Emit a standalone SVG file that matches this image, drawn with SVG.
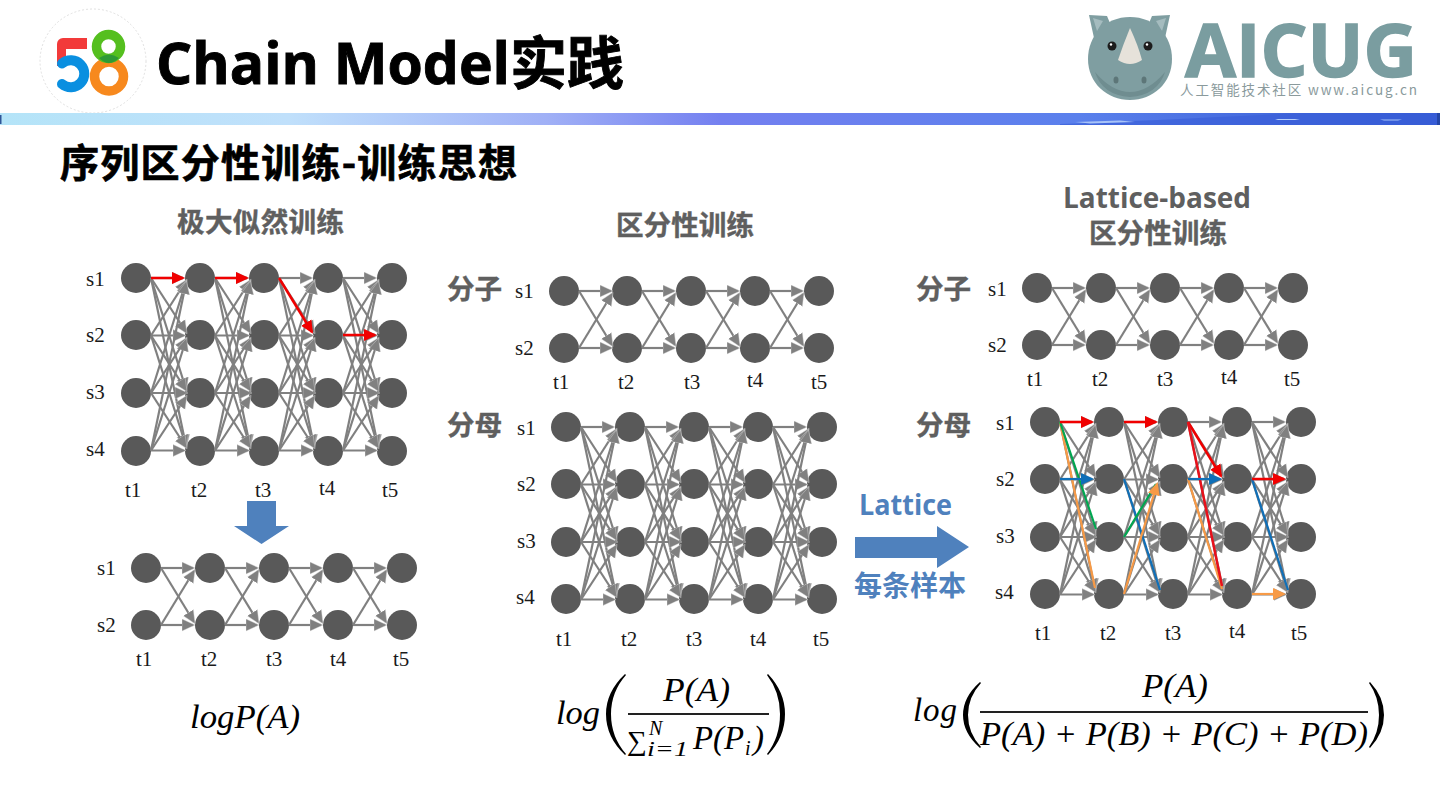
<svg xmlns="http://www.w3.org/2000/svg" xmlns:xlink="http://www.w3.org/1999/xlink" width="1440" height="810" viewBox="0 0 1440 810">
<style>
.n{fill:#595959}
.e{stroke:#808080;stroke-width:2.2;fill:none;marker-end:url(#ag)}
.r{stroke:#f00000;stroke-width:2.5;fill:none;marker-end:url(#ar)}
.b{stroke:#0f6fb8;stroke-width:2.2;fill:none;marker-end:url(#ab)}
.o{stroke:#f79a46;stroke-width:2.2;fill:none;marker-end:url(#ao)}
.rn{stroke:#e8101a;stroke-width:2.5;fill:none}
.bn{stroke:#0f6fb8;stroke-width:2.2;fill:none}
.gn{stroke:#00a650;stroke-width:2.2;fill:none}
.ob{stroke:#f79a46;stroke-width:2.2;fill:none}
.l{font-family:"Liberation Serif",serif;font-size:21px;fill:#1a1a1a}
.h{font-family:"Open Sans","Noto Sans CJK SC",sans-serif;font-weight:700;fill:#5f5f5f;font-size:28px}
.hc{font-family:"Noto Sans CJK SC",sans-serif;font-weight:700;fill:#5f5f5f;font-size:27.6px;stroke:#5f5f5f;stroke-width:.4}
.bl{font-family:"Open Sans","Noto Sans CJK SC",sans-serif;font-weight:700;fill:#4f81bd}
.m{font-family:"Liberation Serif",serif;font-style:italic;fill:#000;font-size:33px}
.mn{font-family:"Liberation Serif",serif;fill:#000}
.s{font-family:"Liberation Serif",serif;font-style:italic;fill:#000;font-size:20px}
.pr{fill:#000}
</style>
<defs>
<linearGradient id="band" x1="0" x2="1" y1="0" y2="0">
<stop offset="0" stop-color="#b4e4f8"/><stop offset="0.2" stop-color="#c0e0fb"/><stop offset="0.38" stop-color="#a0b0f6"/><stop offset="0.5" stop-color="#7480f0"/><stop offset="0.75" stop-color="#5a80ec"/><stop offset="1" stop-color="#2f55cf"/>
</linearGradient>
<marker id="ag" markerUnits="userSpaceOnUse" markerWidth="16" markerHeight="14" refX="11" refY="6.5" orient="auto"><path d="M0 .5L13 6.500L0 12.500Z" fill="#808080" stroke="#d8d8d8" stroke-width=".4"/></marker>
<marker id="ar" markerUnits="userSpaceOnUse" markerWidth="16" markerHeight="14" refX="11" refY="6.5" orient="auto"><path d="M0 .5L13 6.500L0 12.500Z" fill="#f00000"/></marker>
<marker id="ab" markerUnits="userSpaceOnUse" markerWidth="16" markerHeight="14" refX="11" refY="6.5" orient="auto"><path d="M0 .5L13 6.500L0 12.500Z" fill="#0f6fb8"/></marker>
<marker id="ao" markerUnits="userSpaceOnUse" markerWidth="16" markerHeight="14" refX="11" refY="6.5" orient="auto"><path d="M0 .5L13 6.500L0 12.500Z" fill="#f79a46"/></marker>
<g id="fc">
<line class="e" x1="15" y1="0" x2="47" y2="0"/><line class="e" x1="15" y1="0" x2="50" y2="54"/><line class="e" x1="15" y1="0" x2="50" y2="111"/><line class="e" x1="15" y1="0" x2="50" y2="168"/>
<line class="e" x1="15" y1="57.5" x2="50" y2="3"/><line class="e" x1="15" y1="57.5" x2="48" y2="57.5"/><line class="e" x1="15" y1="57.5" x2="50" y2="112"/><line class="e" x1="15" y1="57.5" x2="50" y2="168"/>
<line class="e" x1="15" y1="115" x2="50" y2="4"/><line class="e" x1="15" y1="115" x2="50" y2="61"/><line class="e" x1="15" y1="115" x2="50" y2="115"/><line class="e" x1="15" y1="115" x2="50" y2="169"/>
<line class="e" x1="15" y1="172.5" x2="50" y2="5"/><line class="e" x1="15" y1="172.5" x2="50" y2="62"/><line class="e" x1="15" y1="172.5" x2="50" y2="119"/><line class="e" x1="15" y1="172.5" x2="48" y2="172.5"/>
</g>
<g id="tw">
<line class="e" x1="15" y1="0" x2="47" y2="0"/><line class="e" x1="15" y1="0" x2="48" y2="54"/>
<line class="e" x1="15" y1="57" x2="48" y2="3"/><line class="e" x1="15" y1="57" x2="47" y2="57"/>
</g>
</defs>
<rect width="1440" height="810" fill="#fff"/>

<g id="logo58">
<ellipse cx="93" cy="61" rx="53" ry="52" fill="#fff" stroke="#d8d8d8" stroke-width="0.8" stroke-dasharray="2 2"/>
<path d="M87 38H63a6 6 0 0 0-6 6V66H66V49H87Z" fill="#f23a3a"/>
<path d="M62 63.500A13.500 13.500 0 1 1 62 84" fill="none" stroke="#0a8fe0" stroke-width="10" stroke-linecap="round"/>
<circle cx="109" cy="76.500" r="14.500" fill="none" stroke="#f7891e" stroke-width="9.500"/>
<circle cx="108.500" cy="46.500" r="12" fill="none" stroke="#55bf1f" stroke-width="9.500"/>
<path d="M99 58Q109 51 119 58Q109 68 99 58Z" fill="#2e9a36"/>
</g>
<text x="156" y="84" font-family="'Open Sans','Noto Sans CJK SC',sans-serif" font-weight="700" font-size="57" fill="#000" stroke="#000" stroke-width=".9" textLength="468" lengthAdjust="spacingAndGlyphs">Chain Model实践</text>

<g id="aicug-logo">
<path d="M1089 15L1107 16L1112 28L1094 38Z" fill="#7f9ea1"/>
<path d="M1170 15L1152 16L1147 28L1165 38Z" fill="#7f9ea1"/>
<path d="M1093 18L1103 21L1097 31Z" fill="#a5bcbf"/>
<path d="M1166 18L1156 21L1162 31Z" fill="#a5bcbf"/>
<path d="M1130 17C1155 17 1172 36 1172 59C1172 83 1153 100 1130 100C1107 100 1088 83 1088 59C1088 36 1105 17 1130 17Z" fill="#7f9ea1"/>
<path d="M1095 72Q1112 92 1130 92Q1148 92 1165 72Q1158 95 1130 97Q1102 95 1095 72Z" fill="#6f8d90"/>
<path d="M1130 28Q1138 45 1142 60Q1130 68 1118 60Q1123 45 1130 28Z" fill="#e6e2da"/>
<circle cx="1112" cy="46" r="4.500" fill="#1c1c1c"/><circle cx="1148" cy="46" r="4.500" fill="#1c1c1c"/>
<circle cx="1111" cy="44.500" r="1.200" fill="#fff"/><circle cx="1147" cy="44.500" r="1.200" fill="#fff"/>
<ellipse cx="1116" cy="80" rx="2.500" ry="3.500" fill="#5d7678"/><ellipse cx="1144" cy="80" rx="2.500" ry="3.500" fill="#5d7678"/>
<text x="1185" y="77" font-family="'Open Sans',sans-serif" font-weight="700" font-size="73" fill="#7a9da0" stroke="#7a9da0" stroke-width="1.500" textLength="232" lengthAdjust="spacingAndGlyphs">AICUG</text>
<text x="1180" y="95" font-family="'Noto Sans CJK SC',sans-serif" font-size="13.500" fill="#8a9a9c" textLength="237" lengthAdjust="spacing">人工智能技术社区 www.aicug.cn</text>
</g>

<rect id="band-bar" x="0" y="113" width="1440" height="12" fill="url(#band)"/>
<rect x="0" y="115" width="1.500" height="9" fill="#2f5597"/>
<path d="M1060 124Q1160 120 1300 113H1440V125H1060Z" fill="#3a5fd8" opacity="0.7"/>
<rect x="1437" y="113" width="3" height="12" fill="#2446a8"/>
<path d="M1075 122L1120 120.500L1135 122L1090 123.500Z" fill="#a8c4f8"/>
<path d="M1275 119H1300L1295 120H1278Z" fill="#b8d0fa"/>
<path d="M1380 119.500H1402L1398 120.500H1384Z" fill="#a8c4f8"/>

<text x="60" y="177" font-family="'Noto Sans CJK SC',sans-serif" font-weight="700" font-size="39" fill="#000" stroke="#000" stroke-width=".7" textLength="457" lengthAdjust="spacing">序列区分性训练-训练思想</text>

<text class="hc" x="177" y="232" textLength="167">极大似然训练</text>
<text class="hc" x="616" y="235" textLength="138">区分性训练</text>
<text class="h" x="1063" y="208" textLength="188" lengthAdjust="spacingAndGlyphs">Lattice-based</text>
<text class="hc" x="1089" y="243" textLength="138">区分性训练</text>
<text class="hc" x="447" y="299" textLength="55">分子</text>
<text class="hc" x="447" y="435" textLength="55">分母</text>
<text class="hc" x="916" y="299" textLength="55">分子</text>
<text class="hc" x="916" y="435" textLength="55">分母</text>

<g id="graph-a-nodes">
<g id="a-t1-s1"><circle class="n" cx="136" cy="278" r="15"/></g><g id="a-t1-s2"><circle class="n" cx="136" cy="335" r="15"/></g><g id="a-t1-s3"><circle class="n" cx="136" cy="393" r="15"/></g><g id="a-t1-s4"><circle class="n" cx="136" cy="451" r="15"/></g>
<g id="a-t2-s1"><circle class="n" cx="200" cy="278" r="15"/></g><g id="a-t2-s2"><circle class="n" cx="200" cy="335" r="15"/></g><g id="a-t2-s3"><circle class="n" cx="200" cy="393" r="15"/></g><g id="a-t2-s4"><circle class="n" cx="200" cy="451" r="15"/></g>
<g id="a-t3-s1"><circle class="n" cx="264" cy="278" r="15"/></g><g id="a-t3-s2"><circle class="n" cx="264" cy="335" r="15"/></g><g id="a-t3-s3"><circle class="n" cx="264" cy="393" r="15"/></g><g id="a-t3-s4"><circle class="n" cx="264" cy="451" r="15"/></g>
<g id="a-t4-s1"><circle class="n" cx="328" cy="278" r="15"/></g><g id="a-t4-s2"><circle class="n" cx="328" cy="335" r="15"/></g><g id="a-t4-s3"><circle class="n" cx="328" cy="393" r="15"/></g><g id="a-t4-s4"><circle class="n" cx="328" cy="451" r="15"/></g>
<g id="a-t5-s1"><circle class="n" cx="392" cy="278" r="15"/></g><g id="a-t5-s2"><circle class="n" cx="392" cy="335" r="15"/></g><g id="a-t5-s3"><circle class="n" cx="392" cy="393" r="15"/></g><g id="a-t5-s4"><circle class="n" cx="392" cy="451" r="15"/></g>
</g>
<g id="graph-b-nodes">
<g id="b-t1-s1"><circle class="n" cx="146" cy="568" r="15"/></g><g id="b-t1-s2"><circle class="n" cx="146" cy="625" r="15"/></g>
<g id="b-t2-s1"><circle class="n" cx="210" cy="568" r="15"/></g><g id="b-t2-s2"><circle class="n" cx="210" cy="625" r="15"/></g>
<g id="b-t3-s1"><circle class="n" cx="274" cy="568" r="15"/></g><g id="b-t3-s2"><circle class="n" cx="274" cy="625" r="15"/></g>
<g id="b-t4-s1"><circle class="n" cx="338" cy="568" r="15"/></g><g id="b-t4-s2"><circle class="n" cx="338" cy="625" r="15"/></g>
<g id="b-t5-s1"><circle class="n" cx="402" cy="568" r="15"/></g><g id="b-t5-s2"><circle class="n" cx="402" cy="625" r="15"/></g>
</g>
<g id="graph-c-nodes">
<g id="c-t1-s1"><circle class="n" cx="564" cy="291" r="15"/></g><g id="c-t1-s2"><circle class="n" cx="564" cy="348" r="15"/></g>
<g id="c-t2-s1"><circle class="n" cx="627" cy="291" r="15"/></g><g id="c-t2-s2"><circle class="n" cx="627" cy="348" r="15"/></g>
<g id="c-t3-s1"><circle class="n" cx="691" cy="291" r="15"/></g><g id="c-t3-s2"><circle class="n" cx="691" cy="348" r="15"/></g>
<g id="c-t4-s1"><circle class="n" cx="755" cy="291" r="15"/></g><g id="c-t4-s2"><circle class="n" cx="755" cy="348" r="15"/></g>
<g id="c-t5-s1"><circle class="n" cx="819" cy="291" r="15"/></g><g id="c-t5-s2"><circle class="n" cx="819" cy="348" r="15"/></g>
</g>
<g id="graph-d-nodes">
<g id="d-t1-s1"><circle class="n" cx="566" cy="427" r="15"/></g><g id="d-t1-s2"><circle class="n" cx="566" cy="484" r="15"/></g><g id="d-t1-s3"><circle class="n" cx="566" cy="542" r="15"/></g><g id="d-t1-s4"><circle class="n" cx="566" cy="599" r="15"/></g>
<g id="d-t2-s1"><circle class="n" cx="630" cy="427" r="15"/></g><g id="d-t2-s2"><circle class="n" cx="630" cy="484" r="15"/></g><g id="d-t2-s3"><circle class="n" cx="630" cy="542" r="15"/></g><g id="d-t2-s4"><circle class="n" cx="630" cy="599" r="15"/></g>
<g id="d-t3-s1"><circle class="n" cx="694" cy="427" r="15"/></g><g id="d-t3-s2"><circle class="n" cx="694" cy="484" r="15"/></g><g id="d-t3-s3"><circle class="n" cx="694" cy="542" r="15"/></g><g id="d-t3-s4"><circle class="n" cx="694" cy="599" r="15"/></g>
<g id="d-t4-s1"><circle class="n" cx="758" cy="427" r="15"/></g><g id="d-t4-s2"><circle class="n" cx="758" cy="484" r="15"/></g><g id="d-t4-s3"><circle class="n" cx="758" cy="542" r="15"/></g><g id="d-t4-s4"><circle class="n" cx="758" cy="599" r="15"/></g>
<g id="d-t5-s1"><circle class="n" cx="822" cy="427" r="15"/></g><g id="d-t5-s2"><circle class="n" cx="822" cy="484" r="15"/></g><g id="d-t5-s3"><circle class="n" cx="822" cy="542" r="15"/></g><g id="d-t5-s4"><circle class="n" cx="822" cy="599" r="15"/></g>
</g>
<g id="graph-e-nodes">
<g id="e-t1-s1"><circle class="n" cx="1037" cy="288" r="15"/></g><g id="e-t1-s2"><circle class="n" cx="1037" cy="345" r="15"/></g>
<g id="e-t2-s1"><circle class="n" cx="1101" cy="288" r="15"/></g><g id="e-t2-s2"><circle class="n" cx="1101" cy="345" r="15"/></g>
<g id="e-t3-s1"><circle class="n" cx="1165" cy="288" r="15"/></g><g id="e-t3-s2"><circle class="n" cx="1165" cy="345" r="15"/></g>
<g id="e-t4-s1"><circle class="n" cx="1229" cy="288" r="15"/></g><g id="e-t4-s2"><circle class="n" cx="1229" cy="345" r="15"/></g>
<g id="e-t5-s1"><circle class="n" cx="1293" cy="288" r="15"/></g><g id="e-t5-s2"><circle class="n" cx="1293" cy="345" r="15"/></g>
</g>
<g id="graph-f-nodes">
<g id="f-t1-s1"><circle class="n" cx="1045" cy="422" r="15"/></g><g id="f-t1-s2"><circle class="n" cx="1045" cy="479" r="15"/></g><g id="f-t1-s3"><circle class="n" cx="1045" cy="537" r="15"/></g><g id="f-t1-s4"><circle class="n" cx="1045" cy="594" r="15"/></g>
<g id="f-t2-s1"><circle class="n" cx="1109" cy="422" r="15"/></g><g id="f-t2-s2"><circle class="n" cx="1109" cy="479" r="15"/></g><g id="f-t2-s3"><circle class="n" cx="1109" cy="537" r="15"/></g><g id="f-t2-s4"><circle class="n" cx="1109" cy="594" r="15"/></g>
<g id="f-t3-s1"><circle class="n" cx="1173" cy="422" r="15"/></g><g id="f-t3-s2"><circle class="n" cx="1173" cy="479" r="15"/></g><g id="f-t3-s3"><circle class="n" cx="1173" cy="537" r="15"/></g><g id="f-t3-s4"><circle class="n" cx="1173" cy="594" r="15"/></g>
<g id="f-t4-s1"><circle class="n" cx="1237" cy="422" r="15"/></g><g id="f-t4-s2"><circle class="n" cx="1237" cy="479" r="15"/></g><g id="f-t4-s3"><circle class="n" cx="1237" cy="537" r="15"/></g><g id="f-t4-s4"><circle class="n" cx="1237" cy="594" r="15"/></g>
<g id="f-t5-s1"><circle class="n" cx="1301" cy="422" r="15"/></g><g id="f-t5-s2"><circle class="n" cx="1301" cy="479" r="15"/></g><g id="f-t5-s3"><circle class="n" cx="1301" cy="537" r="15"/></g><g id="f-t5-s4"><circle class="n" cx="1301" cy="594" r="15"/></g>
</g>

<g id="connectors">
<use xlink:href="#fc" href="#fc" x="136" y="278"/><use xlink:href="#fc" href="#fc" x="200" y="278"/><use xlink:href="#fc" href="#fc" x="264" y="278"/><use xlink:href="#fc" href="#fc" x="328" y="278"/>
<use xlink:href="#tw" href="#tw" x="146" y="568"/><use xlink:href="#tw" href="#tw" x="210" y="568"/><use xlink:href="#tw" href="#tw" x="274" y="568"/><use xlink:href="#tw" href="#tw" x="338" y="568"/>
<use xlink:href="#tw" href="#tw" x="564" y="291"/><use xlink:href="#tw" href="#tw" x="627" y="291"/><use xlink:href="#tw" href="#tw" x="691" y="291"/><use xlink:href="#tw" href="#tw" x="755" y="291"/>
<use xlink:href="#fc" href="#fc" x="566" y="427"/><use xlink:href="#fc" href="#fc" x="630" y="427"/><use xlink:href="#fc" href="#fc" x="694" y="427"/><use xlink:href="#fc" href="#fc" x="758" y="427"/>
<use xlink:href="#tw" href="#tw" x="1037" y="288"/><use xlink:href="#tw" href="#tw" x="1101" y="288"/><use xlink:href="#tw" href="#tw" x="1165" y="288"/><use xlink:href="#tw" href="#tw" x="1229" y="288"/>
<use xlink:href="#fc" href="#fc" x="1045" y="422"/><use xlink:href="#fc" href="#fc" x="1109" y="422"/><use xlink:href="#fc" href="#fc" x="1173" y="422"/><use xlink:href="#fc" href="#fc" x="1237" y="422"/>
<line class="r" x1="151" y1="278" x2="183" y2="278"/><line class="r" x1="215" y1="278" x2="247" y2="278"/><line class="r" x1="279" y1="278" x2="312" y2="332"/><line class="r" x1="343" y1="335" x2="375" y2="335"/>
<line class="ob" x1="1060" y1="422" x2="1095" y2="588"/><line class="gn" x1="1060" y1="422" x2="1096" y2="529"/>
<line class="r" x1="1060" y1="422" x2="1092" y2="422"/><line class="b" x1="1060" y1="479" x2="1092" y2="479"/>
<line class="bn" x1="1124" y1="479" x2="1160" y2="590"/><line class="gn" x1="1124" y1="537" x2="1156" y2="484"/><line class="o" x1="1124" y1="594" x2="1157" y2="484"/>
<line class="r" x1="1124" y1="422" x2="1156" y2="422"/>
<line class="ob" x1="1188" y1="479" x2="1222" y2="589"/><line class="r" x1="1188" y1="422" x2="1221" y2="476"/><line class="rn" x1="1188" y1="422" x2="1222" y2="586"/><line class="b" x1="1188" y1="479" x2="1220" y2="479"/>
<line class="bn" x1="1252" y1="479" x2="1288" y2="590"/><line class="r" x1="1252" y1="479" x2="1284" y2="479"/><line class="o" x1="1252" y1="594" x2="1284" y2="594"/>
</g>

<g id="labels-a"><text class="l" x="86" y="286">s1</text><text class="l" x="86" y="342">s2</text><text class="l" x="86" y="399">s3</text><text class="l" x="86" y="456">s4</text><text class="l" x="125" y="497">t1</text><text class="l" x="191" y="497">t2</text><text class="l" x="255" y="497">t3</text><text class="l" x="319" y="495">t4</text><text class="l" x="382" y="497">t5</text></g>
<g id="labels-b"><text class="l" x="97" y="575">s1</text><text class="l" x="97" y="632">s2</text><text class="l" x="136" y="666">t1</text><text class="l" x="201" y="666">t2</text><text class="l" x="266" y="666">t3</text><text class="l" x="330" y="666">t4</text><text class="l" x="393" y="666">t5</text></g>
<g id="labels-c"><text class="l" x="515" y="298">s1</text><text class="l" x="515" y="355">s2</text><text class="l" x="553" y="389">t1</text><text class="l" x="618" y="389">t2</text><text class="l" x="684" y="389">t3</text><text class="l" x="747" y="387">t4</text><text class="l" x="811" y="389">t5</text></g>
<g id="labels-d"><text class="l" x="517" y="435">s1</text><text class="l" x="517" y="491">s2</text><text class="l" x="517" y="548">s3</text><text class="l" x="516" y="604">s4</text><text class="l" x="556" y="646">t1</text><text class="l" x="621" y="646">t2</text><text class="l" x="686" y="646">t3</text><text class="l" x="750" y="646">t4</text><text class="l" x="813" y="646">t5</text></g>
<g id="labels-e"><text class="l" x="988" y="296">s1</text><text class="l" x="988" y="352">s2</text><text class="l" x="1027" y="386">t1</text><text class="l" x="1092" y="386">t2</text><text class="l" x="1157" y="386">t3</text><text class="l" x="1221" y="384">t4</text><text class="l" x="1284" y="386">t5</text></g>
<g id="labels-f"><text class="l" x="996" y="430">s1</text><text class="l" x="996" y="486">s2</text><text class="l" x="996" y="543">s3</text><text class="l" x="995" y="599">s4</text><text class="l" x="1035" y="640">t1</text><text class="l" x="1100" y="640">t2</text><text class="l" x="1165" y="640">t3</text><text class="l" x="1229" y="638">t4</text><text class="l" x="1291" y="640">t5</text></g>

<path id="down-arrow" d="M247 501H276V526H289L261.500 544L234 526H247Z" fill="#4f81bd"/>
<path id="lattice-arrow" d="M855 537H937V526L969 547L937 568V558H855Z" fill="#4f81bd"/>
<text class="bl" x="859" y="515" font-size="28" textLength="93" lengthAdjust="spacingAndGlyphs">Lattice</text>
<text class="bl" x="854" y="596" font-size="28" textLength="112">每条样本</text>

<g id="formula-a"><text class="m" x="190" y="728" textLength="110" lengthAdjust="spacingAndGlyphs">logP(A)</text></g>
<g id="formula-b">
<text class="m" x="556" y="724" textLength="44" lengthAdjust="spacingAndGlyphs">log</text>
<path class="pr" d="M625 674Q606 692 606 714Q606 737 625 755L626 754Q611 737 611 714Q611 692 626 675Z"/>
<text class="m" x="663" y="701" textLength="67" lengthAdjust="spacingAndGlyphs">P(A)</text>
<rect x="628" y="713" width="141" height="2" fill="#222"/>
<text class="mn" x="627" y="750" font-size="27" textLength="20" lengthAdjust="spacingAndGlyphs">∑</text>
<text class="s" x="649" y="735" font-size="18">N</text>
<text class="s" x="647" y="756" textLength="41" lengthAdjust="spacingAndGlyphs">i=1</text>
<text class="m" x="693" y="749" textLength="51" lengthAdjust="spacingAndGlyphs">P(P</text>
<text class="s" x="745" y="755">i</text>
<text class="m" x="753" y="749">)</text>
<path class="pr" d="M768 674Q785 692 785 714Q785 737 768 755L767 754Q780 737 780 714Q780 692 767 675Z"/>
</g>
<g id="formula-c">
<text class="m" x="913" y="721" textLength="44" lengthAdjust="spacing">log</text>
<path class="pr" d="M980 682Q963 697 963 715Q963 733 980 748L981 747Q968 733 968 715Q968 697 981 683Z"/>
<text class="m" x="1142" y="697" textLength="66" lengthAdjust="spacingAndGlyphs">P(A)</text>
<rect x="980" y="711" width="388" height="2" fill="#222"/>
<text class="m" x="980" y="745" textLength="388" lengthAdjust="spacingAndGlyphs">P(A) + P(B) + P(C) + P(D)</text>
<path class="pr" d="M1370 682Q1384 697 1384 715Q1384 733 1370 748L1369 747Q1379 733 1379 715Q1379 697 1369 683Z"/>
</g>
</svg>
